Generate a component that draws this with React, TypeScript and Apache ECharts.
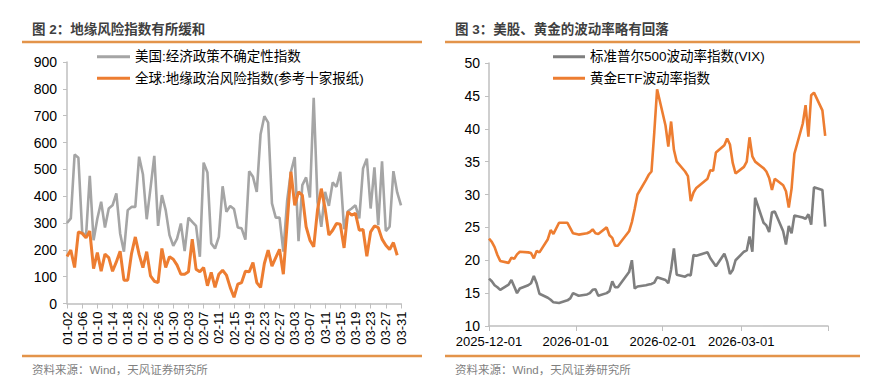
import React, { useEffect, useRef } from 'react';
import * as echarts from 'echarts';

const FONT = "'Liberation Sans', Arial, 'Noto Sans CJK SC', sans-serif";

// ---------- Left chart: daily, 01-02 .. 03-31 ----------
const epuDates = [
  '01-02','01-03','01-04','01-05','01-06','01-07','01-08','01-09','01-10','01-11','01-12','01-13','01-14','01-15','01-16',
  '01-17','01-18','01-19','01-20','01-21','01-22','01-23','01-24','01-25','01-26','01-27','01-28','01-29','01-30','01-31',
  '02-01','02-02','02-03','02-04','02-05','02-06','02-07','02-08','02-09','02-10','02-11','02-12','02-13','02-14',
  '02-15','02-16','02-17','02-18','02-19','02-20','02-21','02-22','02-23','02-24','02-25','02-26','02-27','02-28',
  '03-01','03-02','03-03','03-04','03-05','03-06','03-07','03-08','03-09','03-10','03-11','03-12','03-13','03-14','03-15',
  '03-16','03-17','03-18','03-19','03-20','03-21','03-22','03-23','03-24','03-25','03-26','03-27','03-28','03-29','03-30','03-31',
];

const usEpu = [
  300, 317, 555, 543, 267, 248, 476, 236, 317, 379,
  283, 354, 366, 410, 261, 193, 348, 360, 360, 547,
  482, 314, 430, 550, 289, 404, 348, 255, 215, 242,
  298, 195, 320, 304, 289, 174, 525, 488, 224, 205,
  248, 437, 342, 363, 352, 283, 280, 238, 493, 472,
  416, 631, 698, 674, 373, 320, 320, 193, 383, 491,
  546, 232, 441, 470, 395, 767, 379, 286, 416, 364,
  451, 435, 491, 277, 344, 354, 366, 317, 503, 540,
  354, 507, 292, 530, 270, 286, 493, 414, 366,
];

const geoRisk = [
  175, 199, 134, 267, 261, 245, 270, 130, 190, 120,
  184, 171, 120, 155, 195, 87, 87, 186, 248, 183,
  134, 193, 103, 83, 78, 205, 134, 174, 165, 143,
  109, 109, 118, 240, 128, 118, 134, 66, 116, 60,
  109, 124, 106, 60, 23, 72, 78, 120, 118, 153,
  78, 60, 149, 199, 139, 171, 202, 109, 298, 491,
  366, 416, 404, 286, 236, 211, 348, 428, 354, 255,
  273, 298, 295, 207, 342, 329, 336, 273, 276, 176,
  267, 289, 283, 240, 217, 201, 227, 180,
];

const leftYTicks = { min: 0, max: 900, interval: 100 };

// ---------- Right chart: trading days ----------
const decDays = [1, 2, 3, 4, 5, 8, 9, 10, 11, 12, 15, 16, 17, 18, 19, 22, 23, 24, 26, 29, 30, 31];
const janDays = [2, 5, 6, 7, 8, 9, 12, 13, 14, 15, 16, 20, 21, 22, 23, 26, 27, 28, 29, 30];
const febDays = [2, 3, 4, 5, 6, 9, 10, 11, 12, 13, 17, 18, 19, 20, 23, 24, 25, 26, 27];
const marDays = [2, 3, 4, 5, 6, 9, 10, 11, 12, 13, 16, 17, 18, 19, 20, 23, 24, 25, 26, 27, 30, 31];

const vix = [
  17.2, 16.8, 16.2, 15.9, 15.5, 16.3, 17.0, 16.0, 15.0, 15.7, 16.2, 16.5, 17.6, 16.5, 14.9, 14.3, 14.0, 13.6, 13.5, 13.9, 14.2, 15.0,
  14.6, 14.8, 15.0, 15.5, 15.6, 14.6, 15.0, 15.3, 16.8, 15.9, 15.9, 18.2, 20.0, 15.7, 16.0, 16.2, 16.3, 16.4, 16.6, 17.4,
  17.0, 16.5, 18.6, 21.8, 17.8, 17.5, 17.8, 17.7, 20.8, 20.7, 21.2, 20.3, 19.7, 19.1, 21.0, 19.8, 17.9, 18.5, 20.0,
  21.3, 21.5, 23.6, 21.3, 29.5, 25.7, 25.3, 24.3, 27.3, 27.4, 24.4, 22.4, 25.2, 24.1, 26.8, 26.5, 26.3, 27.0, 25.4, 31.1, 30.7, 25.1,
];

const gvz = [
  23.3, 22.8, 22.0, 20.8, 19.9, 19.6, 20.4, 20.2, 20.9, 21.3, 21.2, 21.1, 20.3, 21.4, 21.2, 23.2, 24.6, 24.0, 25.7, 25.7, 24.9, 24.1,
  23.9, 24.1, 24.3, 24.7, 24.1, 24.0, 25.0, 23.8, 23.4, 22.2, 22.2, 24.4, 25.8, 27.8, 30.0, 32.2, 33.0, 33.5, 39.5, 46.0,
  40.5, 37.3, 41.1, 36.8, 35.0, 33.5, 32.8, 29.0, 30.3, 31.0, 32.4, 33.7, 33.6, 36.4, 37.5, 38.5, 37.6, 34.8, 33.2,
  34.2, 35.0, 38.7, 35.8, 35.0, 34.0, 33.5, 32.5, 30.7, 32.4, 31.4, 30.5, 28.0, 30.9, 36.2, 40.8, 43.6, 38.8, 45.1, 45.5, 42.8, 38.9,
];

const rightYTicks = { min: 10, max: 50, interval: 5 };
const rightXRange = { min: '2025-12-01', max: '2026-04-01' };

const pad = (n: number) => (n < 10 ? '0' + n : '' + n);
const tradingDates = [
  ...decDays.map((d) => `2025-12-${pad(d)}`),
  ...janDays.map((d) => `2026-01-${pad(d)}`),
  ...febDays.map((d) => `2026-02-${pad(d)}`),
  ...marDays.map((d) => `2026-03-${pad(d)}`),
];

const NAME_EPU = '美国:经济政策不确定性指数';
const NAME_GEO = '全球:地缘政治风险指数(参考十家报纸)';
const NAME_VIX = '标准普尔500波动率指数(VIX)';
const NAME_GVZ = '黄金ETF波动率指数';

const GRAY_L = '#A5A5A5';
const GRAY_D = '#7F7F7F';
const ORANGE = '#ED7D31';
const RULE = '#E3944A';
const AXIS = '#BFBFBF';

export default function App() {
  const ref = useRef<HTMLDivElement>(null);

  useEffect(() => {
    if (!ref.current) return;
    const chart = echarts.init(ref.current, null, { renderer: 'svg' });

    const axisText = { color: '#000', fontFamily: FONT };
    const legendCommon = {
      orient: 'vertical',
      top: 45,
      icon: 'rect',
      itemHeight: 3,
      itemGap: 8,
      textStyle: { fontSize: 13.5, color: '#000', fontFamily: FONT },
    };

    const option: any = {
      animation: false,
      backgroundColor: '#fff',
      textStyle: { fontFamily: FONT },
      grid: [
        { left: 67, top: 62, width: 334, height: 241.5, containLabel: false, outerBoundsMode: 'none' },
        { left: 489, top: 63, width: 339, height: 263, containLabel: false, outerBoundsMode: 'none' },
      ],
      legend: [
        { ...legendCommon, data: [NAME_EPU, NAME_GEO], left: 92, itemWidth: 33 },
        { ...legendCommon, data: [NAME_VIX, NAME_GVZ], left: 548, itemWidth: 32 },
      ],
      xAxis: [
        {
          gridIndex: 0,
          type: 'category',
          data: epuDates,
          boundaryGap: false,
          axisLine: { lineStyle: { color: AXIS, width: 1.5 } },
          axisTick: { show: true, interval: 3, length: 5, lineStyle: { color: AXIS } },
          axisLabel: { ...axisText, fontSize: 13, rotate: 90, interval: 3, margin: 8 },
          splitLine: { show: false },
        },
        {
          gridIndex: 1,
          type: 'time',
          min: rightXRange.min,
          max: rightXRange.max,
          minInterval: 28 * 86400000,
          maxInterval: 31 * 86400000,
          axisLine: { lineStyle: { color: AXIS, width: 1.5 } },
          axisTick: { show: true, length: 5, lineStyle: { color: AXIS } },
          axisLabel: {
            ...axisText,
            fontSize: 13,
            margin: 9,
            showMinLabel: true,
            hideOverlap: false,
            formatter: (val: number) => {
              const d = new Date(val);
              if (d.getFullYear() === 2026 && d.getMonth() === 3) return '';
              return `${d.getFullYear()}-${pad(d.getMonth() + 1)}-${pad(d.getDate())}`;
            },
          },
          splitLine: { show: false },
        },
      ],
      yAxis: [
        {
          gridIndex: 0,
          type: 'value',
          min: leftYTicks.min,
          max: leftYTicks.max,
          interval: leftYTicks.interval,
          axisLine: { show: true, lineStyle: { color: AXIS, width: 1.5 } },
          axisTick: { show: true, length: 4, lineStyle: { color: AXIS } },
          axisLabel: { ...axisText, fontSize: 14, margin: 10 },
          splitLine: { show: false },
        },
        {
          gridIndex: 1,
          type: 'value',
          min: rightYTicks.min,
          max: rightYTicks.max,
          interval: rightYTicks.interval,
          axisLine: { show: true, lineStyle: { color: AXIS, width: 1.5 } },
          axisTick: { show: true, length: 4, lineStyle: { color: AXIS } },
          axisLabel: { ...axisText, fontSize: 14, margin: 9 },
          splitLine: { show: false },
        },
      ],
      series: [
        {
          name: NAME_EPU,
          type: 'line',
          xAxisIndex: 0,
          yAxisIndex: 0,
          data: usEpu,
          symbol: 'none',
          lineStyle: { color: GRAY_L, width: 2.6 },
          itemStyle: { color: GRAY_L },
        },
        {
          name: NAME_GEO,
          type: 'line',
          xAxisIndex: 0,
          yAxisIndex: 0,
          data: geoRisk,
          symbol: 'none',
          lineStyle: { color: ORANGE, width: 3 },
          itemStyle: { color: ORANGE },
        },
        {
          name: NAME_VIX,
          type: 'line',
          xAxisIndex: 1,
          yAxisIndex: 1,
          data: tradingDates.map((d, i) => [d, vix[i]]),
          symbol: 'none',
          lineStyle: { color: GRAY_D, width: 2.6 },
          itemStyle: { color: GRAY_D },
        },
        {
          name: NAME_GVZ,
          type: 'line',
          xAxisIndex: 1,
          yAxisIndex: 1,
          data: tradingDates.map((d, i) => [d, gvz[i]]),
          symbol: 'none',
          lineStyle: { color: ORANGE, width: 2.6 },
          itemStyle: { color: ORANGE },
        },
      ],
      graphic: [
        {
          type: 'text',
          left: 32,
          top: 23,
          style: { text: '图 2：地缘风险指数有所缓和', fontSize: 13.5, fontWeight: 'bold', fill: '#3F3F3F', fontFamily: FONT },
        },
        { type: 'line', shape: { x1: 22, y1: 42, x2: 422, y2: 42 }, style: { stroke: RULE, lineWidth: 2.5 } },
        { type: 'line', shape: { x1: 22, y1: 356, x2: 422, y2: 356 }, style: { stroke: RULE, lineWidth: 2.5 } },
        {
          type: 'text',
          left: 32,
          top: 364,
          style: { text: '资料来源：Wind，天风证券研究所', fontSize: 11.5, fill: '#7F7F7F', fontFamily: FONT },
        },
        {
          type: 'text',
          left: 455,
          top: 23,
          style: { text: '图 3：美股、黄金的波动率略有回落', fontSize: 13.5, fontWeight: 'bold', fill: '#3F3F3F', fontFamily: FONT },
        },
        { type: 'line', shape: { x1: 445, y1: 42, x2: 860, y2: 42 }, style: { stroke: RULE, lineWidth: 2.5 } },
        { type: 'line', shape: { x1: 445, y1: 356, x2: 860, y2: 356 }, style: { stroke: RULE, lineWidth: 2.5 } },
        {
          type: 'text',
          left: 455,
          top: 364,
          style: { text: '资料来源：Wind，天风证券研究所', fontSize: 11.5, fill: '#7F7F7F', fontFamily: FONT },
        },
      ],
    };

    chart.setOption(option);
    return () => chart.dispose();
  }, []);

  return (
    <div
      ref={ref}
      style={{ position: 'fixed', left: 0, top: 0, width: 883, height: 391, background: '#fff' }}
    />
  );
}
